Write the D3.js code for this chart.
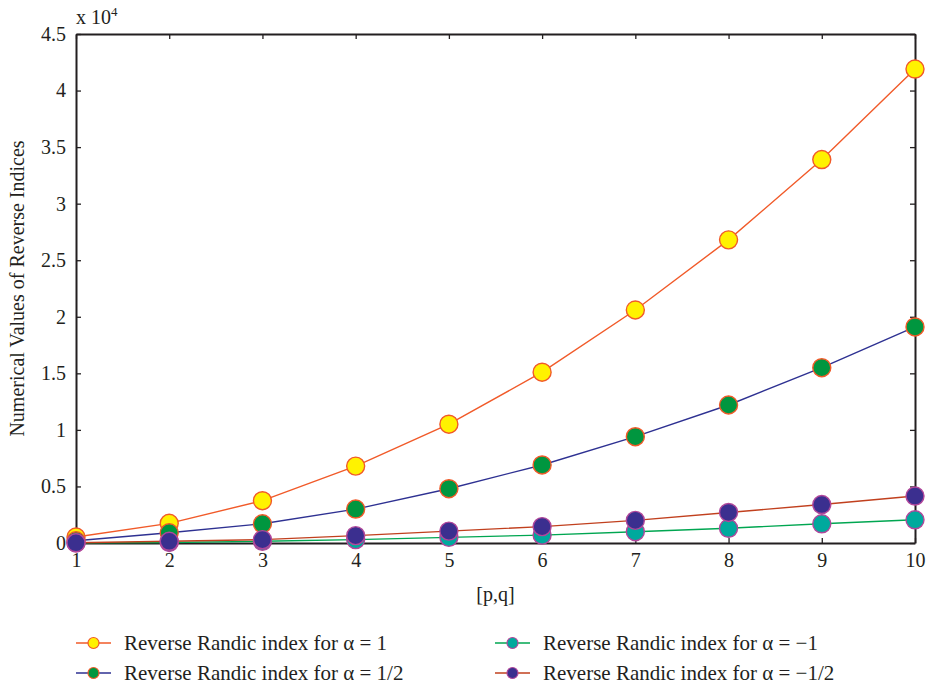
<!DOCTYPE html>
<html>
<head>
<meta charset="utf-8">
<script src="https://cdn.jsdelivr.net/npm/d3@7"></script>
<style>
  html, body { margin: 0; padding: 0; background: #fff; }
  svg text { font-family: "Liberation Serif", "DejaVu Serif", serif; fill: #231f20; }
</style>
</head>
<body>
<svg id="chart" width="929" height="686"></svg>
<script>
// [p,q] positions along the x axis
const pq = [1, 2, 3, 4, 5, 6, 7, 8, 9, 10];

// Reverse Randic index values per alpha
const alphaOne      = [530, 1740, 3740, 6800, 10500, 15100, 20600, 26800, 33900, 41900];
const alphaHalf     = [200, 900, 1700, 3000, 4800, 6900, 9400, 12200, 15500, 19100];
const alphaMinusOne = [10, 50, 150, 300, 500, 700, 1000, 1300, 1700, 2050];
const alphaMinusHalf= [20, 150, 300, 650, 1050, 1450, 2000, 2700, 3400, 4150];

const yTicks = [0, 0.5, 1, 1.5, 2, 2.5, 3, 3.5, 4, 4.5];
const yTickLabels = ["0", "0.5", "1", "1.5", "2", "2.5", "3", "3.5", "4", "4.5"];

const series = [
  { name: "Reverse Randic index for \u03b1 = 1",       values: alphaOne,       line: "#f15a29", fill: "#fff200", stroke: "#f15a29" },
  { name: "Reverse Randic index for \u03b1 = 1/2",     values: alphaHalf,      line: "#2e3192", fill: "#00963f", stroke: "#f15a29" },
  { name: "Reverse Randic index for \u03b1 = \u22121",   values: alphaMinusOne,  line: "#00a651", fill: "#00a99d", stroke: "#b1479b" },
  { name: "Reverse Randic index for \u03b1 = \u22121/2", values: alphaMinusHalf, line: "#c1401e", fill: "#3b2f8f", stroke: "#b1479b" }
];

const svg = d3.select("#chart");
const margin = { left: 76, right: 14, top: 34, bottom: 143 };
const W = 929, H = 686;
const x = d3.scaleLinear().domain([1, 10]).range([margin.left, W - margin.right]);
const y = d3.scaleLinear().domain([0, 45000]).range([H - margin.bottom, margin.top]);

const axisColor = "#231f20";
const tickLen = 5;
const tickFont = "20px";
const labelFont = "20px";

// Axes with inward ticks on all four sides
const gx = svg.append("g").attr("transform", `translate(0,${y(0)})`)
  .call(d3.axisBottom(x).tickValues(pq).tickSizeInner(-tickLen).tickSizeOuter(0).tickPadding(10).tickFormat(d3.format("d")));
const gxTop = svg.append("g").attr("transform", `translate(0,${y(45000)})`)
  .call(d3.axisTop(x).tickValues(pq).tickSizeInner(-tickLen).tickSizeOuter(0).tickFormat(""));
const gy = svg.append("g").attr("transform", `translate(${x(1)},0)`)
  .call(d3.axisLeft(y).tickValues(yTicks.map(v => v * 1e4)).tickSizeInner(-tickLen).tickSizeOuter(0).tickPadding(10)
    .tickFormat((d, i) => yTickLabels[i]));
const gyRight = svg.append("g").attr("transform", `translate(${x(10)},0)`)
  .call(d3.axisRight(y).tickValues(yTicks.map(v => v * 1e4)).tickSizeInner(-tickLen).tickSizeOuter(0).tickFormat(""));

[gx, gxTop, gy, gyRight].forEach(g => {
  g.select(".domain").attr("stroke", axisColor).attr("stroke-width", 2);
  g.selectAll(".tick line").attr("stroke", axisColor).attr("stroke-width", 1.3);
  g.selectAll(".tick text").style("font-family", "'Liberation Serif', serif").style("font-size", tickFont).attr("fill", axisColor);
});

// Axis titles
svg.append("text").attr("x", 76).attr("y", 24).style("font-size", "20px")
  .html('x 10<tspan dy="-8" style="font-size:13px">4</tspan>');
svg.append("text").attr("x", (x(1) + x(10)) / 2).attr("y", 601).attr("text-anchor", "middle")
  .style("font-size", labelFont).text("[p,q]");
svg.append("text").attr("transform", `translate(24,${(y(0) + y(45000)) / 2}) rotate(-90)`)
  .attr("text-anchor", "middle").style("font-size", labelFont).text("Numerical Values of Reverse Indices");

// Lines first, then markers on top
const line = d3.line().x((d, i) => x(pq[i])).y(d => y(d));
const plot = svg.append("g");
series.forEach(s => {
  plot.append("path").datum(s.values).attr("d", line)
    .attr("fill", "none").attr("stroke", s.line).attr("stroke-width", 1.4);
});
series.forEach(s => {
  plot.append("g").selectAll("circle").data(s.values).join("circle")
    .attr("cx", (d, i) => x(pq[i])).attr("cy", d => y(d)).attr("r", 9)
    .attr("fill", s.fill).attr("stroke", s.stroke).attr("stroke-width", 1.4);
});

// Legend in two columns
const legendPos = [[76, 643], [76, 673], [495, 643], [495, 673]];
series.forEach((s, i) => {
  const [lx, ly] = legendPos[i];
  const g = svg.append("g").attr("transform", `translate(${lx},${ly})`);
  g.append("line").attr("x1", 0).attr("x2", 35).attr("y1", 0).attr("y2", 0)
    .attr("stroke", s.line).attr("stroke-width", 1.4);
  g.append("circle").attr("cx", 17.5).attr("cy", 0).attr("r", 5.5)
    .attr("fill", s.fill).attr("stroke", s.stroke).attr("stroke-width", 1.2);
  g.append("text").attr("x", 48).attr("y", 6.5).style("font-size", "21px").text(s.name);
});
</script>
</body>
</html>
